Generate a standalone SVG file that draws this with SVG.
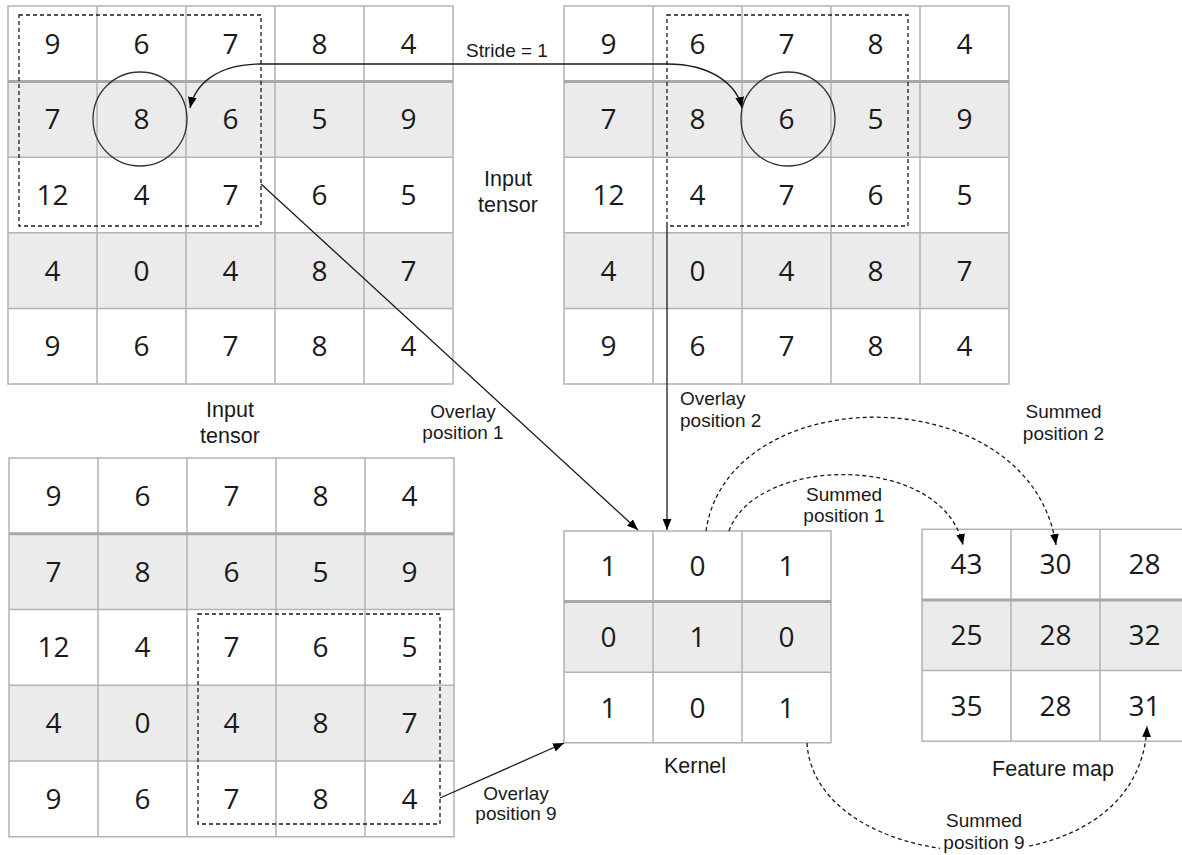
<svg xmlns="http://www.w3.org/2000/svg" width="1182" height="855" viewBox="0 0 1182 855">
<style>
.rowg{fill:#ebebeb;stroke:none}
.gl{stroke:#b3b3b3;stroke-width:1.5;fill:none}
.gt{stroke:#a8a8a8;stroke-width:3;fill:none}
.num{font-family:"Open Sans","Noto Sans",sans-serif;font-size:28px;fill:#1a1a1a;text-anchor:middle}
.lbl{font-family:"Liberation Sans",Arial,sans-serif;font-size:19px;fill:#1a1a1a;text-anchor:middle}
.lbls{font-family:"Liberation Sans",Arial,sans-serif;font-size:19px;fill:#1a1a1a;text-anchor:start}
.big{font-family:"Liberation Sans",Arial,sans-serif;font-size:21.5px;fill:#1a1a1a;text-anchor:middle}
.dash{fill:none;stroke:#1a1a1a;stroke-width:1.3;stroke-dasharray:4 3}
.ring{fill:none;stroke:#333333;stroke-width:1.3}
.edge{fill:none;stroke:#1a1a1a;stroke-width:1.3}
.edged{fill:none;stroke:#1a1a1a;stroke-width:1.3;stroke-dasharray:4 3}
</style>
<defs>
<marker id="arr" viewBox="0 0 10 8" refX="10" refY="4" markerWidth="11" markerHeight="9" markerUnits="userSpaceOnUse" orient="auto-start-reverse">
<path d="M0,0 L10,4 L0,8 z" fill="#000000"/>
</marker>
</defs>
<rect width="1182" height="855" fill="#ffffff"/>

<g id="input-tensor-pos1">
<rect x="8" y="81.6" width="445" height="75.6" class="rowg"/>
<rect x="8" y="232.8" width="445" height="75.6" class="rowg"/>
<rect x="8" y="6" width="445" height="378" class="gl"/>
<path class="gl" d="M97,6V384M186,6V384M275,6V384M364,6V384M8,157.2H453M8,232.8H453M8,308.4H453"/>
<path class="gt" d="M8,81.6H453"/>
<g class="num">
<text x="52.5" y="53.8">9</text><text x="141.5" y="53.8">6</text><text x="230.5" y="53.8">7</text><text x="319.5" y="53.8">8</text><text x="408.5" y="53.8">4</text>
<text x="52.5" y="129.4">7</text><text x="141.5" y="129.4">8</text><text x="230.5" y="129.4">6</text><text x="319.5" y="129.4">5</text><text x="408.5" y="129.4">9</text>
<text x="52.5" y="205">12</text><text x="141.5" y="205">4</text><text x="230.5" y="205">7</text><text x="319.5" y="205">6</text><text x="408.5" y="205">5</text>
<text x="52.5" y="280.6">4</text><text x="141.5" y="280.6">0</text><text x="230.5" y="280.6">4</text><text x="319.5" y="280.6">8</text><text x="408.5" y="280.6">7</text>
<text x="52.5" y="356.2">9</text><text x="141.5" y="356.2">6</text><text x="230.5" y="356.2">7</text><text x="319.5" y="356.2">8</text><text x="408.5" y="356.2">4</text>
</g>
<rect x="19" y="15" width="242" height="211" class="dash"/>
<circle cx="140" cy="119" r="47" class="ring"/>
</g>

<g id="input-tensor-pos2">
<rect x="564" y="81.6" width="445" height="75.6" class="rowg"/>
<rect x="564" y="232.8" width="445" height="75.6" class="rowg"/>
<rect x="564" y="6" width="445" height="378" class="gl"/>
<path class="gl" d="M653,6V384M742,6V384M831,6V384M920,6V384M564,157.2H1009M564,232.8H1009M564,308.4H1009"/>
<path class="gt" d="M564,81.6H1009"/>
<g class="num">
<text x="608.5" y="53.8">9</text><text x="697.5" y="53.8">6</text><text x="786.5" y="53.8">7</text><text x="875.5" y="53.8">8</text><text x="964.5" y="53.8">4</text>
<text x="608.5" y="129.4">7</text><text x="697.5" y="129.4">8</text><text x="786.5" y="129.4">6</text><text x="875.5" y="129.4">5</text><text x="964.5" y="129.4">9</text>
<text x="608.5" y="205">12</text><text x="697.5" y="205">4</text><text x="786.5" y="205">7</text><text x="875.5" y="205">6</text><text x="964.5" y="205">5</text>
<text x="608.5" y="280.6">4</text><text x="697.5" y="280.6">0</text><text x="786.5" y="280.6">4</text><text x="875.5" y="280.6">8</text><text x="964.5" y="280.6">7</text>
<text x="608.5" y="356.2">9</text><text x="697.5" y="356.2">6</text><text x="786.5" y="356.2">7</text><text x="875.5" y="356.2">8</text><text x="964.5" y="356.2">4</text>
</g>
<rect x="667" y="15" width="241" height="211" class="dash"/>
<circle cx="788" cy="119" r="47" class="ring"/>
</g>

<g id="input-tensor-pos9">
<rect x="9" y="533.75" width="445" height="75.75" class="rowg"/>
<rect x="9" y="685.25" width="445" height="75.75" class="rowg"/>
<rect x="9" y="458" width="445" height="378.75" class="gl"/>
<path class="gl" d="M98,458V836.75M187,458V836.75M276,458V836.75M365,458V836.75M9,609.5H454M9,685.25H454M9,761H454"/>
<path class="gt" d="M9,533.75H454"/>
<g class="num">
<text x="53.5" y="505.9">9</text><text x="142.5" y="505.9">6</text><text x="231.5" y="505.9">7</text><text x="320.5" y="505.9">8</text><text x="409.5" y="505.9">4</text>
<text x="53.5" y="581.6">7</text><text x="142.5" y="581.6">8</text><text x="231.5" y="581.6">6</text><text x="320.5" y="581.6">5</text><text x="409.5" y="581.6">9</text>
<text x="53.5" y="657.4">12</text><text x="142.5" y="657.4">4</text><text x="231.5" y="657.4">7</text><text x="320.5" y="657.4">6</text><text x="409.5" y="657.4">5</text>
<text x="53.5" y="733.1">4</text><text x="142.5" y="733.1">0</text><text x="231.5" y="733.1">4</text><text x="320.5" y="733.1">8</text><text x="409.5" y="733.1">7</text>
<text x="53.5" y="808.9">9</text><text x="142.5" y="808.9">6</text><text x="231.5" y="808.9">7</text><text x="320.5" y="808.9">8</text><text x="409.5" y="808.9">4</text>
</g>
<rect x="198" y="614" width="242" height="210" class="dash"/>
</g>

<g id="kernel">
<rect x="564" y="601.6" width="267" height="70.6" class="rowg"/>
<rect x="564" y="531" width="267" height="211.8" class="gl"/>
<path class="gl" d="M653,531V742.8M742,531V742.8M564,672.2H831"/>
<path class="gt" d="M564,601.6H831"/>
<g class="num">
<text x="608.5" y="576.3">1</text><text x="697.5" y="576.3">0</text><text x="786.5" y="576.3">1</text>
<text x="608.5" y="646.9">0</text><text x="697.5" y="646.9">1</text><text x="786.5" y="646.9">0</text>
<text x="608.5" y="717.5">1</text><text x="697.5" y="717.5">0</text><text x="786.5" y="717.5">1</text>
</g>
</g>

<g id="feature-map">
<rect x="922" y="600" width="267" height="70.6" class="rowg"/>
<rect x="922" y="529.3" width="267" height="211.9" class="gl"/>
<path class="gl" d="M1011,529.3V741.2M1100,529.3V741.2M922,670.6H1189"/>
<path class="gt" d="M922,600H1189"/>
<g class="num">
<text x="966.5" y="574.3">43</text><text x="1055.5" y="574.3">30</text><text x="1144.5" y="574.3">28</text>
<text x="966.5" y="645.3">25</text><text x="1055.5" y="645.3">28</text><text x="1144.5" y="645.3">32</text>
<text x="966.5" y="715.9">35</text><text x="1055.5" y="715.9">28</text><text x="1144.5" y="715.9">31</text>
</g>
</g>

<g id="connectors">
<path class="edge" d="M190,108 C195,85 216,64 261,64 L667,64 C712,64 737,85 742,108" marker-start="url(#arr)" marker-end="url(#arr)"/>
<path class="edge" d="M261,184 L638,530" marker-end="url(#arr)"/>
<path class="edge" d="M667,226 L667,530" marker-end="url(#arr)"/>
<path class="edge" d="M440,798 L564,743" marker-end="url(#arr)"/>
<path class="edged" d="M729,531 C756,455 942,452 963,545" marker-end="url(#arr)"/>
<path class="edged" d="M706,531 C728,378 1030,376 1056,545" marker-end="url(#arr)"/>
<path class="edged" d="M807,743 C815,880 1140,900 1147,726" marker-end="url(#arr)"/>
</g>

<g id="labels">
<text class="lbl" x="507" y="57">Stride = 1</text>
<text class="big" x="508" y="186">Input</text>
<text class="big" x="508" y="212">tensor</text>
<text class="big" x="230" y="417">Input</text>
<text class="big" x="230" y="443">tensor</text>
<text class="lbl" x="463" y="417.5">Overlay</text>
<text class="lbl" x="463" y="438.5">position 1</text>
<text class="lbls" x="680" y="405">Overlay</text>
<text class="lbls" x="680" y="427">position 2</text>
<text class="lbl" x="1063.5" y="418">Summed</text>
<text class="lbl" x="1063.5" y="440">position 2</text>
<text class="lbl" x="844" y="501">Summed</text>
<text class="lbl" x="844" y="522">position 1</text>
<text class="lbl" x="516" y="799.5">Overlay</text>
<text class="lbl" x="516" y="820">position 9</text>
<text class="big" x="695" y="773">Kernel</text>
<text class="big" x="1053" y="776">Feature map</text>
<rect x="940" y="831" width="89" height="24" fill="#ffffff"/>
<text class="lbl" x="984" y="827">Summed</text>
<text class="lbl" x="984" y="849">position 9</text>
</g>
</svg>
